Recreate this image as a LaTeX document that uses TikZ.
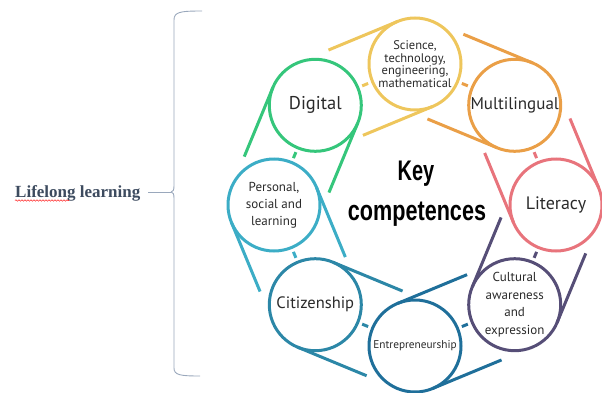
\documentclass[tikz,border=0pt]{standalone}
\usepackage{fontspec}
\setmainfont{PT Sans}
\newfontfamily\serifface{Liberation Serif}
\newfontfamily\keyface{Liberation Sans}
\usetikzlibrary{calc,decorations.pathmorphing}
\definecolor{cdig}{HTML}{35C67B}
\definecolor{csci}{HTML}{EEC65C}
\definecolor{cmul}{HTML}{EA9F47}
\definecolor{clit}{HTML}{E8747C}
\definecolor{ccul}{HTML}{564E77}
\definecolor{cent}{HTML}{1F6F9A}
\definecolor{ccit}{HTML}{2C87A7}
\definecolor{cper}{HTML}{3CADC6}
\definecolor{textgray}{HTML}{2A2A2A}
\definecolor{bracecol}{HTML}{9AA8BC}
\definecolor{lifecol}{HTML}{3D4B5F}
\begin{document}
\begin{tikzpicture}[x=1pt,y=1pt,
  comp/.style={circle,draw=#1,line width=3pt,minimum size=92pt,inner sep=0pt,outer sep=0pt,text=textgray,align=center},
  tail/.style={line width=3pt,draw=#1},
  tick/.style={line width=3pt,draw=#1},
  bracestyle/.style={draw=bracecol,line width=0.9pt}]
\useasboundingbox (0,0) rectangle (602,392);
\coordinate (O) at (415,187);

% circles
\node[comp=csci,font=\fontsize{12.5}{12.5}\selectfont] (sci) at ($(O)+(90:141)$) {Science,\\technology,\\engineering,\\mathematical};
\node[comp=cmul,font=\fontsize{17}{20}\selectfont] (mul) at ($(O)+(45:141)$) {Multilingual};
\node[comp=clit,font=\fontsize{18}{20}\selectfont] (lit) at ($(O)+(0:141)$) {Literacy};
\node[comp=ccul,font=\fontsize{13}{17.5}\selectfont] (cul) at ($(O)+(-45:141)$) {Cultural\\awareness\\and\\expression};
\node[comp=cent,font=\fontsize{11.3}{13}\selectfont] (ent) at ($(O)+(-90:141)$) {Entrepreneurship};
\node[comp=ccit,font=\fontsize{16.5}{20}\selectfont] (cit) at ($(O)+(-135:141)$) {Citizenship};
\node[comp=cper,font=\fontsize{13}{17}\selectfont] (per) at ($(O)+(180:141)$) {Personal,\\social and\\learning};
\node[comp=cdig,font=\fontsize{18.5}{20}\selectfont] (dig) at ($(O)+(135:141)$) {Digital};

% tails and ticks
\foreach \n/\m/\a/\c in {sci/dig/90/csci, dig/per/135/cdig, per/cit/180/cper, cit/ent/225/ccit, ent/cul/270/cent, cul/lit/315/ccul, lit/mul/360/clit, mul/sci/45/cmul}{
  \pgfmathsetmacro\ta{\a+22.5}
  \pgfmathsetmacro\tb{\a+202.5}
  \pgfmathsetmacro\dir{\a+112.5}
  \draw[tail=\c] (\n.\ta) -- ++(\dir:75);
  \draw[tail=\c] (\n.\tb) -- ++(\dir:75);
  \draw[tick=\c] ($(\n)!0.47!(\m)$) -- ($(\n)!0.53!(\m)$);
}

% center title
\node[anchor=base,font=\keyface\bfseries\fontsize{27}{30}\selectfont,text=black] (key) at (416,212) {\scalebox{0.74}[1.05]{Key}};
\node[anchor=base,font=\keyface\bfseries\fontsize{27}{30}\selectfont,text=black] (kc) at (417,172) {\scalebox{0.8}[1.05]{competences}};

% lifelong learning + brace
\node[anchor=base west,inner sep=0pt,font=\serifface\bfseries\fontsize{17}{20}\selectfont,text=lifecol] (life) at (15,195) {Lifelong learning};
\draw[red!80,line width=0.6pt,decorate,decoration={snake,amplitude=0.7pt,segment length=3pt}] (15,191.5) -- (69,191.5);
\coordinate (tip) at (171,200);
\coordinate (ltail) at (148,200);
\coordinate (btop) at (202,381);
\coordinate (bbot) at (200,16);
\draw[bracestyle] (ltail) -- (tip);
\draw[bracestyle] (btop) .. controls (180,381) and (174,380) .. (174,372) -- (174,206) .. controls (174,202) and (173,200) .. (tip);
\draw[bracestyle] (tip) .. controls (173,200) and (174,198) .. (174,194) -- (174,24) .. controls (174,17) and (180,16) .. (bbot);
\end{tikzpicture}
\end{document}
